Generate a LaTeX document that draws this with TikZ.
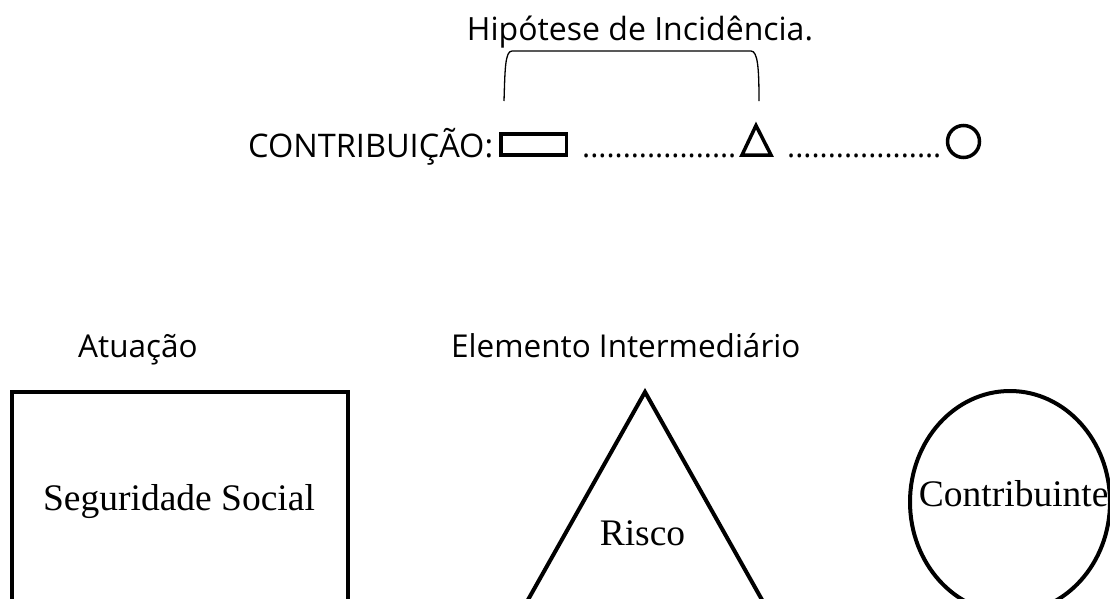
\documentclass[tikz,border=0pt]{standalone}
\usepackage{fontspec}
\setmainfont{Liberation Serif}
\newfontfamily\osans{Open Sans}
\tikzset{
  sanslabel/.style={inner sep=0pt, font=\osans\fontsize{31.5}{36}\selectfont},
  dotlabel/.style={inner sep=0pt, font=\osans\fontsize{30.5}{36}\selectfont},
  seriflabel/.style={inner sep=0pt, font=\fontsize{37.5}{42}\selectfont},
  thickshape/.style={draw=black, line width=4pt, line join=miter},
  smallshape/.style={draw=black, line width=3.5pt, line join=miter},
  bracketline/.style={draw=black, line width=1.3pt}
}
\begin{document}
\begin{tikzpicture}[x=1pt,y=-1pt]
\useasboundingbox (0,0) rectangle (1110,598);
\clip (0,0) rectangle (1110,598);
% top line
\node[sanslabel, font=\osans\fontsize{32}{36}\selectfont, anchor=base] (hip) at (640,40) {Hipótese de Incidência.};
\node[sanslabel, font=\osans\fontsize{32.5}{38}\selectfont, anchor=base west] (contrib) at (248,157) {CONTRIBUIÇÃO:};
\node[smallshape, rectangle, minimum width=65.5pt, minimum height=21pt, inner sep=0pt] (srect) at (533.5,144.5) {};
\node[dotlabel, anchor=base west] (dots1) at (582,157) {...................};
\coordinate (stA) at (756,125.5);
\coordinate (stB) at (742,155);
\coordinate (stC) at (771,155);
\draw[smallshape] (stA) -- (stB) -- (stC) -- cycle;
\node[dotlabel, anchor=base west] (dots2) at (787,157) {...................};
\node[smallshape, circle, minimum size=32pt, inner sep=0pt] (scirc) at (963.5,141.5) {};
% bracket
\coordinate (bl) at (504,101);
\coordinate (br) at (759,101);
\draw[bracketline] (bl) .. controls (505,70) and (505,51) .. (512,51) -- (751,51) .. controls (758,51) and (759,70) .. (br);
% bottom
\node[sanslabel, anchor=base west] (atua) at (78,357) {Atuação};
\node[sanslabel, anchor=base west] (elem) at (451,357) {Elemento Intermediário};
\draw[thickshape] (12,700) -- (12,392) -- (348,392) -- (348,700);
\node[seriflabel, anchor=base] (seg) at (179,510) {Seguridade Social};
\coordinate (tA) at (645,392);
\draw[thickshape] (471.6,700) -- (tA) -- (818.4,700);
\node[seriflabel, anchor=base] (risco) at (642.5,545) {Risco};
\draw[thickshape] (1010,502) ellipse [x radius=100, y radius=111];
\node[seriflabel, anchor=base] (contr) at (1013.7,506.7) {Contribuinte};
\end{tikzpicture}
\end{document}
